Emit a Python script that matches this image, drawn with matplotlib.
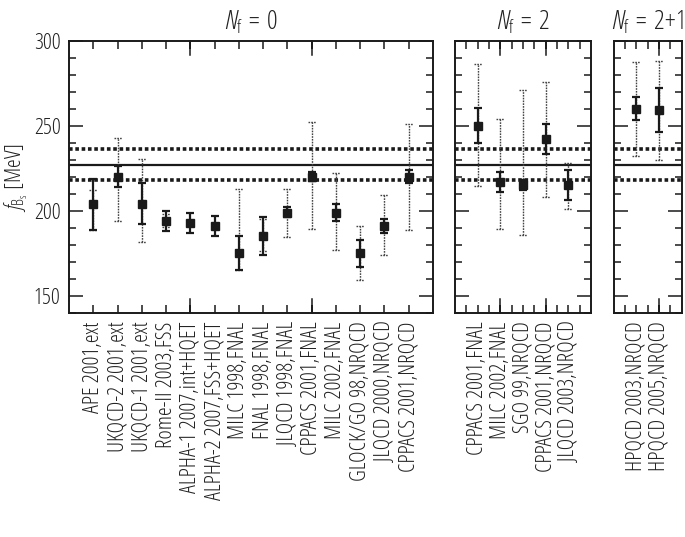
import matplotlib
matplotlib.use("Agg")
import matplotlib.pyplot as plt
import numpy as np
from matplotlib.ticker import FixedLocator, MultipleLocator, NullFormatter

plt.rcParams['font.family'] = ['Open Sans', 'DejaVu Sans']
plt.rcParams['font.stretch'] = 'condensed'
plt.rcParams['mathtext.fontset'] = 'custom'
plt.rcParams['mathtext.rm'] = 'Open Sans:stretch=condensed'
plt.rcParams['mathtext.it'] = 'Open Sans:italic:stretch=condensed'
plt.rcParams['mathtext.sf'] = 'Open Sans:stretch=condensed'

# ---------------- data ----------------
labels_nf0 = ["APE 2001,ext", "UKQCD-2 2001,ext", "UKQCD-1 2001,ext", "Rome-II 2003,FSS",
              "ALPHA-1 2007,int+HQET", "ALPHA-2 2007,FSS+HQET", "MILC 1998,FNAL",
              "FNAL 1998,FNAL", "JLQCD 1998,FNAL", "CPPACS 2001,FNAL", "MILC 2002,FNAL",
              "GLOCK/GO 98,NRQCD", "JLQCD 2000,NRQCD", "CPPACS 2001,NRQCD"]
val_nf0 = [204.2, 220.1, 204.2, 194.2, 193.2, 191.2, 175.4, 185.2, 199.1, 220.1, 199.1, 175.4, 191.2, 220.1]
stat_hi_nf0 = [219.0, 226.6, 216.4, 200.1, 199.1, 197.1, 185.4, 196.4, 202.4, 223.0, 204.4, 183.2, 195.4, 224.2]
stat_lo_nf0 = [189.1, 214.0, 192.2, 188.3, 187.1, 185.2, 165.1, 174.0, 196.2, 217.7, 194.0, 167.1, 187.1, 216.4]
tot_hi_nf0 = [212.3, 243.1, 230.5, 198.5, np.nan, np.nan, 213.2, 195.0, 213.2, 252.5, 222.1, 191.0, 209.3, 250.9]
tot_lo_nf0 = [189.1, 194.0, 181.6, 190.3, np.nan, np.nan, 165.1, 176.3, 184.8, 189.3, 176.9, 159.3, 174.4, 188.7]

labels_nf2 = ["CPPACS 2001,FNAL", "MILC 2002,FNAL", "SGO 99,NRQCD", "CPPACS 2001,NRQCD", "JLQCD 2003,NRQCD"]
val_nf2 = [250.1, 217.2, 215.2, 242.5, 215.2]
stat_hi_nf2 = [260.3, 223.0, 218.1, 251.1, 224.4]
stat_lo_nf2 = [240.1, 211.3, 212.3, 233.3, 206.4]
tot_hi_nf2 = [286.3, 254.3, 270.9, 276.1, 228.0]
tot_lo_nf2 = [214.8, 189.3, 186.1, 208.3, 201.3]

labels_nf21 = ["HPQCD 2003,NRQCD", "HPQCD 2005,NRQCD"]
val_nf21 = [260.2, 259.2]
stat_hi_nf21 = [267.2, 272.1]
stat_lo_nf21 = [253.5, 246.2]
tot_hi_nf21 = [287.8, 288.4]
tot_lo_nf21 = [232.3, 229.9]

avg_central = 227.0
avg_band = [218.3, 236.3]

titles = [r"$N_\mathrm{f}\;=\;0$", r"$N_\mathrm{f}\;=\;2$", r"$N_\mathrm{f}\;=\;2\!+\!1$"]

# ---------------- figure ----------------
W, H = 685, 537
fig = plt.figure(figsize=(W / 100, H / 100), dpi=100)

def fx(px):
    return px / W

top_px, bot_px = 41, 313
yb = 1 - bot_px / H
hh = (bot_px - top_px) / H
boxes = [(69, 433), (455, 591), (613.7, 681.7)]

panels = [
    (labels_nf0, val_nf0, stat_lo_nf0, stat_hi_nf0, tot_lo_nf0, tot_hi_nf0, 15, [5, 10], 1.0),
    (labels_nf2, val_nf2, stat_lo_nf2, stat_hi_nf2, tot_lo_nf2, tot_hi_nf2, 6, [2, 4], 0.5),
    (labels_nf21, val_nf21, stat_lo_nf21, stat_hi_nf21, tot_lo_nf21, tot_hi_nf21, 3, [2], 0.5),
]

LC = '#1a1a1a'
TC = '#222222'
FS = 16

for i, ((l, r), pdata, title) in enumerate(zip(boxes, panels, titles)):
    labels, val, slo, shi, tlo, thi, xmax, longx, minstep = pdata
    ax = fig.add_axes([fx(l), yb, fx(r - l), hh])
    ax.set_xlim(0, xmax)
    ax.set_ylim(140, 300)
    x = np.arange(1, len(labels) + 1)
    val = np.array(val); slo = np.array(slo); shi = np.array(shi)
    tlo = np.array(tlo); thi = np.array(thi)
    px_per_unit = (r - l) / xmax
    cw = 4.0 / px_per_unit

    # average band
    ax.axhline(avg_central, color=LC, lw=1.6, zorder=2)
    for yv in avg_band:
        ax.axhline(yv, color=LC, lw=2.6, linestyle=(0, (1.0, 0.75)), zorder=2)

    # total (dotted) errors
    ok = ~np.isnan(thi)
    ax.vlines(x[ok], tlo[ok], thi[ok], colors='#444444', linestyles=(0, (1.2, 0.8)), lw=1.0, zorder=3)
    ax.hlines(np.r_[tlo[ok], thi[ok]], np.r_[x[ok], x[ok]] - cw, np.r_[x[ok], x[ok]] + cw,
              colors='#444444', linestyles=(0, (1.2, 0.8)), lw=1.0, zorder=3)
    # statistical (solid) errors
    ax.errorbar(x, val, yerr=[val - slo, shi - val], fmt='s', color=LC, ms=6,
                ecolor=LC, elinewidth=1.6, capsize=2.9, capthick=1.6, zorder=4)

    # ticks
    ax.xaxis.set_major_locator(FixedLocator(list(x)))
    ax.set_xticklabels(labels, rotation=90, fontsize=FS, color=TC, va='top')
    ax.xaxis.set_minor_locator(FixedLocator(sorted(set(np.arange(minstep, xmax, minstep)) - set(x.astype(float)) | set(longx))))
    ax.xaxis.remove_overlapping_locs = False
    ax.tick_params(axis='x', which='major', direction='in', length=5.5, width=1.1,
                   top=True, bottom=True, pad=6, color=LC)
    ax.tick_params(axis='x', which='minor', direction='in', length=5.5, width=1.1,
                   top=True, bottom=True, color=LC)
    # long ticks at selected positions
    for xl in longx:
        for yv, tr in ((0, 1), (1, -1)):
            ax.plot([xl, xl], [yv, yv + tr * 14 / (bot_px - top_px)], color=LC, lw=1.1,
                    transform=ax.get_xaxis_transform(), clip_on=False, zorder=5)

    ax.yaxis.set_major_locator(MultipleLocator(50))
    ax.yaxis.set_minor_locator(MultipleLocator(10))
    ax.tick_params(axis='y', which='major', direction='in', length=10, width=1.1,
                   left=True, right=True, color=LC, labelsize=FS, labelcolor=TC, pad=6)
    ax.tick_params(axis='y', which='minor', direction='in', length=5, width=1.1,
                   left=True, right=True, color=LC)
    if i > 0:
        ax.yaxis.set_major_formatter(NullFormatter())
    else:
        ax.set_ylabel(r"$f_{\mathrm{B}_\mathrm{s}}$ [MeV]", fontsize=FS, color=TC, labelpad=3)

    for s in ax.spines.values():
        s.set_linewidth(1.4)
        s.set_color(LC)

    ax.set_title(title, fontsize=19, color=TC, pad=8)

fig.savefig("out.png", dpi=100)
